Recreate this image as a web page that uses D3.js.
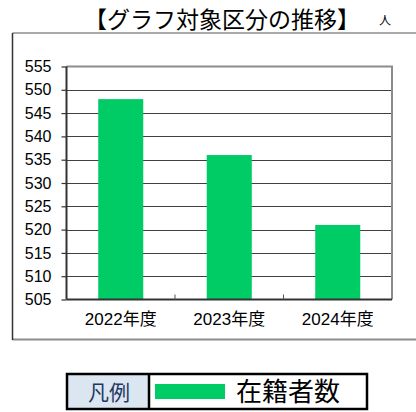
<!DOCTYPE html>
<html>
<head>
<meta charset="utf-8">
<script src="https://cdn.jsdelivr.net/npm/d3@7"></script>
<style>
  html, body { margin: 0; padding: 0; background: #fff; }
  svg { display: block; }
</style>
</head>
<body>
<svg id="chart" width="416" height="412"></svg>
<script>
// chart data
const categories = ["2022年度", "2023年度", "2024年度"];
const values = [548, 536, 521];
const yTicks = [505, 510, 515, 520, 525, 530, 535, 540, 545, 550, 555];
const titleText = "【グラフ対象区分の推移】";
const unitText = "人";
const legendHead = "凡例";
const seriesName = "在籍者数";

const W = 416, H = 412;
const plot = { left: 66.5, right: 392, top: 66.5, bottom: 299.5 };
const barColor = "#00cc66";
const fontNum = "'Liberation Sans', Arial, 'Noto Sans CJK JP', sans-serif";
const fontJP = "'Noto Sans CJK JP', sans-serif";

const svg = d3.select("#chart");

// outer frame (runs off right side)
svg.append("line").attr("x1", 12.5).attr("x2", W + 5).attr("y1", 33).attr("y2", 33)
  .attr("stroke", "#8c8c8c").attr("stroke-width", 1.5);
svg.append("line").attr("x1", 12.5).attr("x2", W + 5).attr("y1", 339.5).attr("y2", 339.5)
  .attr("stroke", "#8c8c8c").attr("stroke-width", 2);
svg.append("line").attr("x1", 12.5).attr("x2", 12.5).attr("y1", 33).attr("y2", 340)
  .attr("stroke", "#333").attr("stroke-width", 1.5);

// title
svg.append("text")
  .attr("x", 222).attr("y", 28)
  .attr("text-anchor", "middle")
  .style("font-family", fontJP).style("font-size", "23px").style("font-weight", "400")
  .text(titleText);
svg.append("text")
  .attr("x", 385).attr("y", 25)
  .attr("text-anchor", "middle")
  .style("font-family", fontJP).style("font-size", "12px").style("font-weight", "400")
  .text(unitText);

// scales
const xScale = d3.scaleBand()
  .domain(categories)
  .range([plot.left, plot.right])
  .paddingInner(0.585)
  .paddingOuter(0.2925);

const yScale = d3.scaleLinear()
  .domain([505, 555])
  .range([plot.bottom, plot.top]);

// gridlines
svg.append("g")
  .selectAll("line.grid")
  .data(yTicks.slice(1, -1))
  .join("line")
    .attr("class", "grid")
    .attr("x1", plot.left).attr("x2", plot.right)
    .attr("y1", d => Math.round(yScale(d)) + 0.5)
    .attr("y2", d => Math.round(yScale(d)) + 0.5)
    .attr("stroke", "#404040").attr("stroke-width", 1);

// plot area border top/right
svg.append("path")
  .attr("d", `M${plot.left},${plot.top}H${plot.right}V${plot.bottom}`)
  .attr("fill", "none").attr("stroke", "#8c8c8c").attr("stroke-width", 2);

// bars
svg.append("g")
  .selectAll("rect.bar")
  .data(categories.map((c, i) => ({ c: c, v: values[i] })))
  .join("rect")
    .attr("class", "bar")
    .attr("x", d => xScale(d.c))
    .attr("width", xScale.bandwidth())
    .attr("y", d => yScale(d.v))
    .attr("height", d => yScale(505) - yScale(d.v))
    .attr("fill", barColor);

// y axis
const yAxis = svg.append("g")
  .attr("transform", `translate(${plot.left},0)`)
  .call(d3.axisLeft(yScale).tickValues(yTicks).tickSize(5).tickPadding(10));
yAxis.select(".domain").attr("stroke", "#333").attr("stroke-width", 2)
  .attr("d", `M0,${plot.top}V${plot.bottom}`);
yAxis.selectAll(".tick line").attr("stroke", "#333").attr("stroke-width", 1.2);
yAxis.selectAll("text")
  .style("font-family", fontNum).style("font-size", "16px").attr("fill", "#000");

// x axis
const xAxis = svg.append("g")
  .attr("transform", `translate(0,${plot.bottom})`)
  .call(d3.axisBottom(xScale).tickSize(0).tickPadding(13));
xAxis.select(".domain").attr("stroke", "#333").attr("stroke-width", 2)
  .attr("d", `M${plot.left},0H${plot.right}`);
xAxis.selectAll("text")
  .style("font-family", fontNum).style("font-size", "17px").attr("fill", "#000");
// category separator ticks (inside)
xAxis.selectAll("line.sep")
  .data(categories.slice(1))
  .join("line")
    .attr("class", "sep")
    .attr("x1", d => xScale(d) - xScale.step() * xScale.paddingInner() / 2)
    .attr("x2", d => xScale(d) - xScale.step() * xScale.paddingInner() / 2)
    .attr("y1", 0).attr("y2", -5)
    .attr("stroke", "#555").attr("stroke-width", 1);

// legend
const lg = svg.append("g");
lg.append("rect").attr("x", 67).attr("y", 374).attr("width", 82).attr("height", 35)
  .attr("fill", "#dce6f1");
lg.append("rect").attr("x", 67).attr("y", 374).attr("width", 300).attr("height", 35)
  .attr("fill", "none").attr("stroke", "#000").attr("stroke-width", 2.5);
lg.append("line").attr("x1", 149).attr("x2", 149).attr("y1", 374).attr("y2", 409)
  .attr("stroke", "#000").attr("stroke-width", 2.5);
lg.append("text").attr("x", 109).attr("y", 400)
  .attr("text-anchor", "middle")
  .style("font-family", fontJP).style("font-size", "21px").attr("fill", "#1f3864")
  .text(legendHead);
lg.append("rect").attr("x", 155).attr("y", 384).attr("width", 70).attr("height", 15)
  .attr("fill", barColor);
lg.append("text").attr("x", 236).attr("y", 401)
  .style("font-family", fontJP).style("font-size", "26px").attr("fill", "#000")
  .text(seriesName);
</script>
</body>
</html>
